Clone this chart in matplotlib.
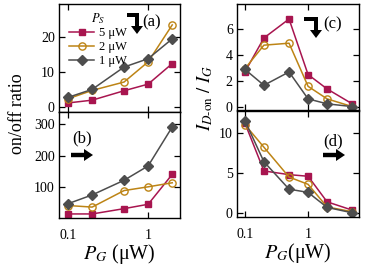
import matplotlib
matplotlib.use("Agg")
import matplotlib.pyplot as plt
from matplotlib.patches import Polygon
from matplotlib.ticker import FixedLocator, NullLocator, FixedFormatter

plt.rcParams['font.family'] = ['Liberation Serif', 'DejaVu Serif']
plt.rcParams['mathtext.fontset'] = 'stix'

# data
pg_left = [0.1, 0.2, 0.5, 1, 2]
pg_right = [0.1, 0.2, 0.5, 1, 2, 5]
series_labels = ['5 μW', '2 μW', '1 μW']

a_5 = [1.1, 1.9, 4.6, 6.5, 12.4]
a_2 = [2.3, 4.7, 7.1, 12.9, 23.5]
a_1 = [2.7, 5.0, 11.4, 13.8, 19.5]

b_5 = [13, 13, 30, 44, 140]
b_2 = [40, 35, 88, 100, 113]
b_1 = [46, 74, 121, 167, 292]

c_5 = [2.7, 5.3, 6.75, 2.5, 1.4, 0.26]
c_2 = [2.95, 4.75, 4.9, 1.6, 0.64, 0.05]
c_1 = [2.9, 1.68, 2.7, 0.64, 0.26, 0.05]

d_5 = [11.2, 5.26, 4.8, 4.6, 1.43, 0.4]
d_2 = [11.0, 8.2, 4.5, 3.6, 0.8, 0.2]
d_1 = [11.5, 6.4, 3.0, 2.6, 0.74, 0.07]

colors = ['#A8154F', '#BD8415', '#4D4D4D']
markers = ['s', 'o', 'D']
mfc = ['#A8154F', 'none', '#4D4D4D']
msize = [4.6, 5.2, 4.6]

W, H = 382, 280
fig = plt.figure(figsize=(W / 100, H / 100), dpi=100)

def rect(x0, y0, x1, y1):
    return [x0 / W, 1 - y1 / H, (x1 - x0) / W, (y1 - y0) / H]

ax_a = fig.add_axes(rect(59, 4, 180, 112))
ax_b = fig.add_axes(rect(59, 112, 180, 218))
ax_c = fig.add_axes(rect(237, 4, 359, 110.5))
ax_d = fig.add_axes(rect(237, 110.5, 359, 217))

def plot_panel(ax, x, ys, labels=None):
    for i, y in enumerate(ys):
        ax.plot(x, y, color=colors[i], marker=markers[i], mfc=mfc[i],
                mec=colors[i], ms=msize[i], lw=1.1, mew=1.0,
                label=(labels[i] if labels else None))

plot_panel(ax_a, pg_left, [a_5, a_2, a_1], series_labels)
plot_panel(ax_b, pg_left, [b_5, b_2, b_1])
plot_panel(ax_c, pg_right, [c_5, c_2, c_1])
plot_panel(ax_d, pg_right, [d_5, d_2, d_1])

for ax in (ax_a, ax_b):
    ax.set_xscale('log')
    ax.set_xlim(0.077, 2.5)
for ax in (ax_c, ax_d):
    ax.set_xscale('log')
    ax.set_xlim(0.075, 6.4)

ax_a.set_ylim(-1.5, 29.5)
ax_a.set_yticks([0, 10, 20])
ax_b.set_ylim(0, 340)
ax_b.set_yticks([100, 200, 300])
ax_c.set_ylim(-0.25, 7.9)
ax_c.set_yticks([0, 2, 4, 6])
ax_d.set_ylim(-0.45, 12.75)
ax_d.set_yticks([0, 5, 10])

for ax in (ax_a, ax_b, ax_c, ax_d):
    ax.xaxis.set_major_locator(FixedLocator([0.1, 1]))
    ax.xaxis.set_minor_locator(NullLocator())
    ax.xaxis.set_major_formatter(FixedFormatter(['0.1', '1']))
    ax.tick_params(direction='in', top=True, right=True, length=4,
                   width=0.9, labelsize=10, pad=3)
    ax.tick_params(axis='x', pad=8)
    for s in ax.spines.values():
        s.set_linewidth(1.0)
for ax in (ax_a, ax_c):
    ax.tick_params(labelbottom=False)

ax_b.set_xlabel('$P_G$ (μW)', fontsize=14.5, labelpad=0)
ax_d.set_xlabel('$P_G$(μW)', fontsize=14.5, labelpad=0)

fig.text(17 / W, 1 - 114 / H, 'on/off ratio', rotation=90, fontsize=13,
         ha='center', va='center')
fig.text(205 / W, 1 - 98 / H, '$I_{D\\text{-on}}\\ /\\ I_G$', rotation=90,
         fontsize=13.5, ha='center', va='center')

leg = ax_a.legend(loc='upper left', bbox_to_anchor=(0.0, 1.03), frameon=False,
                  fontsize=9, title='$P_S$', title_fontsize=9,
                  handlelength=2.0, handletextpad=0.4, labelspacing=0.15,
                  borderpad=0.3)

# panel labels
fig.text(152 / W, 1 - 22 / H, '(a)', fontsize=12, ha='center', va='center')
fig.text(82 / W, 1 - 138 / H, '(b)', fontsize=12, ha='center', va='center')
fig.text(333 / W, 1 - 24 / H, '(c)', fontsize=12, ha='center', va='center')
fig.text(333 / W, 1 - 141 / H, '(d)', fontsize=12, ha='center', va='center')

def px(pts):
    return [(x / W, 1 - y / H) for x, y in pts]

def bent_arrow(x0, xs, y0):
    t = 4
    pts = [(x0, y0), (xs, y0), (xs, y0 + 13), (xs + 4, y0 + 13),
           (xs - 2, y0 + 21), (xs - 8, y0 + 13), (xs - t, y0 + 13),
           (xs - t, y0 + t), (x0, y0 + t)]
    fig.patches.append(Polygon(px(pts), closed=True, transform=fig.transFigure,
                               facecolor='black', edgecolor='none'))

def right_arrow(x0, y):
    pts = [(x0, y - 2.2), (x0 + 13, y - 2.2), (x0 + 13, y - 6), (x0 + 22, y),
           (x0 + 13, y + 6), (x0 + 13, y + 2.2), (x0, y + 2.2)]
    fig.patches.append(Polygon(px(pts), closed=True, transform=fig.transFigure,
                               facecolor='black', edgecolor='none'))

bent_arrow(127, 139, 13)
bent_arrow(304, 318, 17)
right_arrow(71, 155)
right_arrow(323, 155)

fig.savefig('out.png', dpi=100)
